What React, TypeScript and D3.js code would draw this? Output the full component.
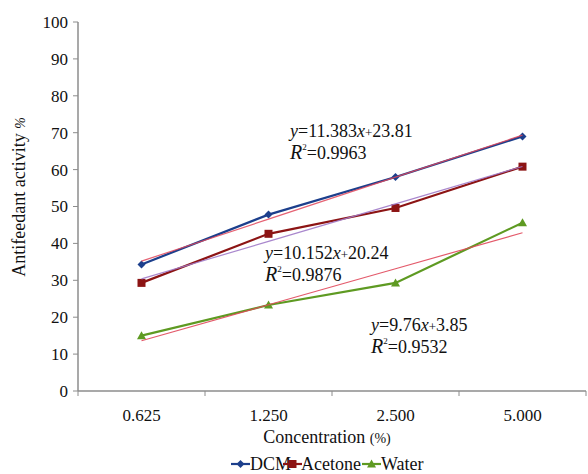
import React from "react";
import * as d3 from "d3";

const categories = ["0.625", "1.250", "2.500", "5.000"];
const dcm = [34.3, 47.8, 58.0, 69.0];
const acetone = [29.3, 42.6, 49.6, 60.8];
const water = [15.0, 23.3, 29.3, 45.6];
const yTicks = [0, 10, 20, 30, 40, 50, 60, 70, 80, 90, 100];

// trendlines y = a*x + b (x = 1..4)
const trendDcm = { a: 11.383, b: 23.81, r2: "0.9963" };
const trendAcetone = { a: 10.152, b: 20.24, r2: "0.9876" };
const trendWater = { a: 9.76, b: 3.85, r2: "0.9532" };

const seriesNames = ["DCM", "Acetone", "Water"];

const width = 588;
const height = 474;
const margin = { top: 22, right: 2, bottom: 83, left: 78 };
const serif = '"Liberation Serif"';

function T(props) {
  const { children, ...rest } = props;
  return (
    <text fill="#111" fontFamily="Liberation Serif" {...rest} style={{ fontFamily: serif }}>
      {children}
    </text>
  );
}

export default function App() {
  const x = d3
    .scaleBand()
    .domain(categories)
    .range([margin.left, width - margin.right])
    .paddingInner(0)
    .paddingOuter(0);
  const y = d3
    .scaleLinear()
    .domain([0, 100])
    .range([height - margin.bottom, margin.top]);
  const cx = (i) => x(categories[i]) + x.bandwidth() / 2;

  const line = d3
    .line()
    .x((d, i) => cx(i))
    .y((d) => y(d));

  const trendPath = (t) =>
    d3
      .line()
      .x((d, i) => cx(i))
      .y((d, i) => y(t.a * (i + 1) + t.b))(categories);

  const series = [
    { name: "DCM", data: dcm, color: "#1c3f8c", marker: "diamond" },
    { name: "Acetone", data: acetone, color: "#8c1414", marker: "square" },
    { name: "Water", data: water, color: "#5e9a22", marker: "triangle" },
  ];

  const marker = (type, px, py, color, key) => {
    if (type === "diamond")
      return (
        <path key={key} d={`M${px},${py - 4}L${px + 4},${py}L${px},${py + 4}L${px - 4},${py}Z`} fill={color} />
      );
    if (type === "square")
      return <rect key={key} x={px - 4} y={py - 4} width={8} height={8} fill={color} />;
    return <path key={key} d={`M${px},${py - 4.5}L${px + 4.5},${py + 3.5}L${px - 4.5},${py + 3.5}Z`} fill={color} />;
  };

  const eqLabel = (t, lx, ly) => (
    <g>
      <T x={lx} y={ly} fontSize={18}>
        <tspan fontStyle="italic">y</tspan>
        <tspan>={t.a}</tspan>
        <tspan fontStyle="italic">x</tspan>
        <tspan fontSize={13}>+</tspan>
        <tspan>{t.b}</tspan>
      </T>
      <T x={lx} y={ly + 22} fontSize={18}>
        <tspan fontStyle="italic" fontSize={20}>R</tspan>
        <tspan fontSize={9} dy={-9}>2</tspan>
        <tspan dy={9}>={t.r2}</tspan>
      </T>
    </g>
  );

  const x0 = margin.left;
  const y0 = height - margin.bottom;
  const boundaries = [x0, ...categories.map((c) => x(c) + x.bandwidth())];

  const legendItems = [
    { lx: 231, tx: 250 },
    { lx: 283, tx: 301 },
    { lx: 362, tx: 381 },
  ];

  return (
    <svg width={width} height={height} style={{ position: "absolute", left: 0, top: 0, background: "#fff" }}>
      {/* axes */}
      <line x1={x0} x2={x0} y1={margin.top} y2={y0} stroke="#8c8c8c" strokeWidth={1.5} />
      <line x1={x0} x2={width - margin.right} y1={y0} y2={y0} stroke="#8c8c8c" strokeWidth={1.5} />
      {yTicks.map((t) => (
        <g key={t}>
          <line x1={x0 - 5} x2={x0} y1={y(t)} y2={y(t)} stroke="#8c8c8c" />
          <T x={x0 - 10} y={y(t)} dy="0.35em" textAnchor="end" fontSize={17}>
            {t}
          </T>
        </g>
      ))}
      {boundaries.map((b, i) => (
        <line key={i} x1={b} x2={b} y1={y0} y2={y0 + 5} stroke="#8c8c8c" />
      ))}
      {categories.map((c, i) => (
        <T key={c} x={cx(i)} y={y0 + 30} textAnchor="middle" fontSize={17}>
          {c}
        </T>
      ))}
      <T x={327} y={443} textAnchor="middle" fontSize={18}>
        Concentration <tspan fontSize={14}>(%)</tspan>
      </T>
      <T transform="translate(25,197) rotate(-90)" textAnchor="middle" fontSize={18}>
        Antifeedant activity <tspan fontSize={14} fontStyle="italic">%</tspan>
      </T>

      {/* series */}
      {series.map((s) => (
        <g key={s.name}>
          <path d={line(s.data)} fill="none" stroke={s.color} strokeWidth={2.2} />
          {s.data.map((v, i) => marker(s.marker, cx(i), y(v), s.color, i))}
        </g>
      ))}

      {/* trendlines */}
      <path d={trendPath(trendDcm)} fill="none" stroke="#e0475a" strokeWidth={1.2} opacity={0.85} />
      <path d={trendPath(trendAcetone)} fill="none" stroke="#a07ac8" strokeWidth={1.2} opacity={0.9} />
      <path d={trendPath(trendWater)} fill="none" stroke="#e0475a" strokeWidth={1.2} opacity={0.9} />

      {eqLabel(trendDcm, 290, 137)}
      {eqLabel(trendAcetone, 265, 259)}
      {eqLabel(trendWater, 371, 331)}

      {/* legend */}
      {series.map((s, i) => (
        <g key={s.name}>
          <line x1={legendItems[i].lx} x2={legendItems[i].lx + 19} y1={464} y2={464} stroke={s.color} strokeWidth={2.2} />
          {marker(s.marker, legendItems[i].lx + 9.5, 464, s.color, "m")}
          <T x={legendItems[i].tx} y={470} fontSize={18}>
            {seriesNames[i]}
          </T>
        </g>
      ))}
    </svg>
  );
}
